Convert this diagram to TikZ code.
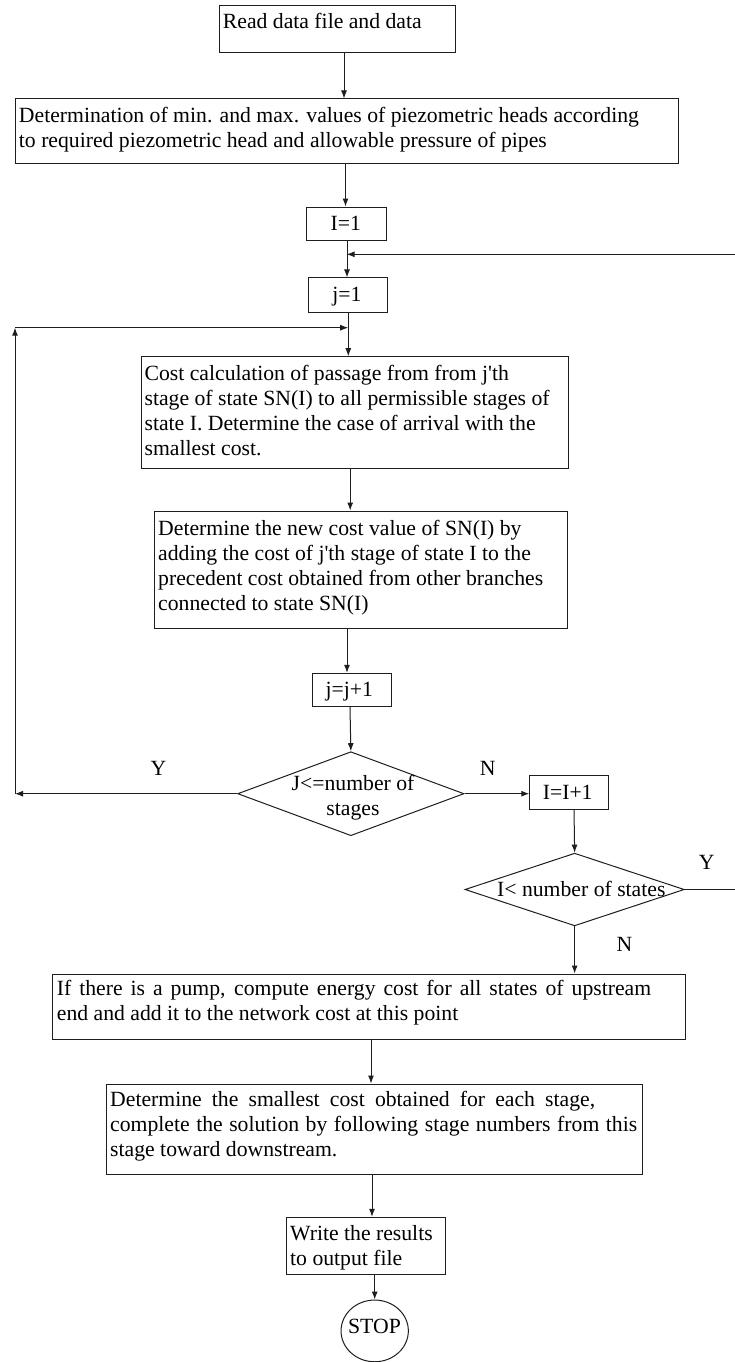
\documentclass[tikz,border=0pt]{standalone}
\usepackage{fontspec}
\setmainfont{Liberation Serif}
\usetikzlibrary{arrows.meta,shapes.geometric}
\definecolor{lc}{RGB}{30,30,30}
\newcommand\mylines[1]{\begin{tabular}[t]{@{}l@{}}#1\end{tabular}}
\newcommand\myclines[1]{\begin{tabular}[t]{@{}c@{}}#1\end{tabular}}
\begin{document}
\begin{tikzpicture}[x=1pt,y=-1pt,
  box/.style={draw=lc, line width=1pt, rectangle, inner sep=0pt},
  dia/.style={draw=lc, line width=1pt, diamond, inner sep=0pt},
  txt/.style={inner sep=0pt, text=black, font=\fontsize{21.7pt}{25pt}\selectfont},
  arr/.style={draw=lc, line width=1pt, -{Latex[length=8pt,width=6pt]}},
  plain/.style={draw=lc, line width=1pt}]
\path[use as bounding box, fill=white] (0,0) rectangle (735,1362);

% boxes
\node[box, minimum width=235.8pt, minimum height=46.6pt] (b1) at (337.3,29) {};
\node[box, minimum width=663.4pt, minimum height=64.7pt] (b2) at (346.7,131.35) {};
\node[box, minimum width=79.3pt, minimum height=33pt] (b3) at (346.6,223.5) {};
\node[box, minimum width=79.5pt, minimum height=34.7pt] (b4) at (348.2,295.3) {};
\node[box, minimum width=427.1pt, minimum height=111.6pt] (b5) at (355.2,412.5) {};
\node[box, minimum width=413pt, minimum height=117.3pt] (b6) at (361.2,569.7) {};
\node[box, minimum width=79.4pt, minimum height=33.4pt] (b7) at (351.7,690) {};
\node[dia, minimum width=226.3pt, minimum height=84pt] (d1) at (350.85,793.7) {};
\node[box, minimum width=78.7pt, minimum height=34pt] (b8) at (569.15,792) {};
\node[dia, minimum width=219.3pt, minimum height=72.7pt] (d2) at (574.65,889.5) {};
\node[box, minimum width=633.2pt, minimum height=65.3pt] (b9) at (368.9,1006.65) {};
\node[box, minimum width=535.8pt, minimum height=90.3pt] (b10) at (374.8,1129.15) {};
\node[box, minimum width=159pt, minimum height=56.7pt] (b11) at (366.2,1245.65) {};
\node[draw=lc, line width=1pt, ellipse, inner sep=0pt, minimum width=67.3pt, minimum height=61.7pt] (stop) at (374.7,1330.9) {};

% texts
\node[txt, anchor=base west] (t1) at (222.7,28.7) {Read data file and data};
\node[txt, anchor=base west] (t2) at (18.75,122.5) {\mylines{Determination of min. and max. values of piezometric heads according\\to required piezometric head and allowable pressure of pipes}};
\node[txt, anchor=base] (t3) at (345.8,230) {I=1};
\node[txt, anchor=base] (t4) at (347,301.5) {j=1};
\node[txt, anchor=base west] (t5) at (144.4,380) {\mylines{Cost calculation of passage from from j\textquotesingle th\\stage of state SN(I) to all permissible stages of\\state I. Determine the case of arrival with the\\smallest cost.}};
\node[txt, anchor=base west] (t6) at (158,535) {\mylines{Determine the new cost value of SN(I) by\\adding the cost of j\textquotesingle th stage of state I to the\\precedent cost obtained from other branches\\connected to state SN(I)}};
\node[txt, anchor=base] (t7) at (349.3,696.7) {j=j+1};
\node[txt, anchor=base] (t8) at (353,790) {\myclines{J<=number of\\stages}};
\node[txt, anchor=base] (t9) at (567.7,799.3) {I=I+1};
\node[txt, anchor=base] (t10) at (581.3,896.7) {I< number of states};
\node[txt, anchor=base west] (t11) at (56.7,995) {\mylines{\makebox[594.3pt][s]{If there is a pump, compute energy cost for all states of upstream}\\end and add it to the network cost at this point}};
\node[txt, anchor=base west] (t12) at (110,1106.7) {\mylines{\makebox[485pt][s]{Determine the smallest cost obtained for each stage,}\\\makebox[527pt][s]{complete the solution by following stage numbers from this}\\stage toward downstream.}};
\node[txt, anchor=base west] (t13) at (290,1240.7) {\mylines{Write the results\\to output file}};
\node[txt, anchor=base] (tstop) at (374.5,1333.3) {STOP};

% labels
\node[txt, anchor=base] (y1) at (158.5,775) {Y};
\node[txt, anchor=base] (n1) at (487.6,775) {N};
\node[txt, anchor=base] (y2) at (706.7,869.3) {Y};
\node[txt, anchor=base] (n2) at (624.5,951) {N};

% connectors
\draw[arr] ([xshift=6.7pt]b1.south) -- ([xshift=-2.7pt]b2.north);
\draw[arr] ([xshift=-1.2pt]b2.south) -- ([xshift=-1.1pt]b3.north);
\draw[arr] ([xshift=0.4pt]b3.south) -- ([xshift=-1.2pt]b4.north);
\draw[arr] ([xshift=0.1pt]b4.south) -- ([xshift=-6.9pt]b5.north);
\draw[arr] ([xshift=-5pt]b5.south) -- ([xshift=-11pt]b6.north);
\draw[arr] ([xshift=-14.2pt]b6.south) -- ([xshift=-4.7pt]b7.north);
\draw[arr] ([xshift=-1.7pt]b7.south) -- (d1.north);
\draw[arr] (d1.east) -- (d1.east -| b8.west);
\draw[arr] ([xshift=4.85pt]b8.south) -- (d2.north);
\draw[arr] (d2.south) -- (d2.south |- b9.north);
\draw[arr] ([xshift=2.1pt]b9.south) -- ([xshift=-3.8pt]b10.north);
\draw[arr] ([xshift=-2.8pt]b10.south) -- ([xshift=5.8pt]b11.north);
\draw[arr] (stop.north |- b11.south) -- (stop.north);

% loop back (Y of first decision)
\coordinate (lx) at (15,327.7);
\draw[arr] (d1.west) -- (d1.west -| lx);
\draw[arr] (d1.west -| lx) -- (lx);
\draw[arr] (lx) -- (lx -| b4.south);

% loop back (Y of second decision)
\coordinate (rx) at (738,254.3);
\draw[arr] (d2.east) -| (rx) -- (rx -| b3.south);
\end{tikzpicture}
\end{document}
